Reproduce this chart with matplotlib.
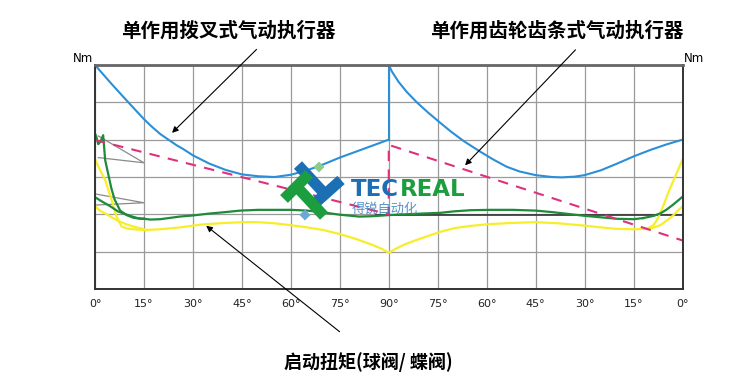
import numpy as np
import matplotlib
matplotlib.use("Agg")
import matplotlib.pyplot as plt
from matplotlib.patches import Polygon

plt.rcParams['font.family'] = ['Noto Sans CJK SC', 'DejaVu Sans']

# ---- data (x: 0..90 = fork actuator, 90..180 = rack & pinion; y in grid units) ----
tick_pos = list(range(0, 181, 15))
tick_labels = ['0°', '15°', '30°', '45°', '60°', '75°', '90°', '75°', '60°', '45°', '30°', '15°', '0°']

blue_fork_x = [0, 5, 10, 15, 17, 20, 25, 27, 30, 35, 40, 45, 50, 55, 60, 65, 70, 75, 80, 85, 90]
blue_fork_y = [6.0, 5.5, 5.02, 4.55, 4.38, 4.15, 3.85, 3.75, 3.58, 3.36, 3.19, 3.07, 3.02, 3.0, 3.06,
               3.18, 3.34, 3.52, 3.68, 3.84, 4.0]
blue_step_x = [90, 90]
blue_step_y = [4.0, 6.0]
blue_rack_x = [90, 91, 93, 95.5, 98.6, 102, 105.8, 109, 113, 118, 122, 126, 130, 135, 140, 143, 147,
               150, 155, 160, 165, 170, 175, 180]
blue_rack_y = [6.0, 5.82, 5.55, 5.28, 5.0, 4.73, 4.45, 4.22, 3.96, 3.68, 3.47, 3.28, 3.15, 3.05, 3.0,
               2.99, 3.01, 3.05, 3.18, 3.36, 3.55, 3.72, 3.87, 4.0]

dash_x = [0, 90, 90, 180]
dash_y = [3.99, 2.0, 3.86, 1.3]

black_x = [86, 180]
black_y = [1.98, 1.98]

green_main_x = [15, 17, 20, 26, 30, 35, 40, 44.5, 50, 55, 60, 65, 70, 75, 81, 85, 90, 95, 100, 105.8,
                110, 115, 121, 128, 135, 140, 145, 150, 155, 160, 165, 168]
green_main_y = [1.88, 1.86, 1.87, 1.94, 1.97, 2.02, 2.06, 2.1, 2.12, 2.12, 2.12, 2.1, 2.05, 1.99, 1.94,
                1.95, 1.98, 2.0, 2.02, 2.04, 2.08, 2.11, 2.12, 2.12, 2.1, 2.06, 2.01, 1.96, 1.92, 1.88,
                1.87, 1.9]
green_up_x = [0, 0.5, 1.0, 1.7, 2.5, 2.8, 3.1, 4.0, 5.0, 6.0, 7.7, 9.7, 11.7, 14, 15]
green_up_y = [4.17, 4.05, 3.88, 3.95, 4.12, 3.8, 3.46, 3.1, 2.7, 2.4, 2.1, 1.98, 1.91, 1.88, 1.88]
green_lo_x = [0, 2, 4.6, 7, 10.7, 13, 15]
green_lo_y = [2.46, 2.35, 2.22, 2.08, 1.96, 1.9, 1.88]
green_end_x = [168, 171.2, 173.3, 175, 177, 180]
green_end_y = [1.9, 1.96, 2.03, 2.12, 2.25, 2.47]

yellow_main_x = [15, 20, 26, 33, 40, 45.5, 50, 55, 60, 65, 70, 75, 80, 85, 88, 90, 92, 95, 100, 105.8,
                 110, 115, 121, 128, 135, 142, 149.7, 155, 160, 165, 169]
yellow_main_y = [1.58, 1.6, 1.65, 1.73, 1.77, 1.79, 1.79, 1.76, 1.71, 1.65, 1.58, 1.47, 1.34, 1.18, 1.07,
                 0.97, 1.07, 1.2, 1.36, 1.53, 1.63, 1.69, 1.74, 1.77, 1.79, 1.76, 1.7, 1.65, 1.61, 1.6,
                 1.61]
yellow_up_x = [0, 1.5, 3.1, 4.1, 5.1, 6.6, 7.5, 8.2, 10, 12, 15]
yellow_up_y = [3.47, 3.2, 2.92, 2.65, 2.38, 1.94, 1.78, 1.67, 1.62, 1.6, 1.58]
yellow_lo_x = [0, 1.5, 3.6, 5.5, 7.7, 10, 12.8, 15]
yellow_lo_y = [2.22, 2.1, 2.0, 1.9, 1.8, 1.72, 1.65, 1.6]
yellow_endA_x = [169, 171, 172.2, 174, 175.5, 177.3, 178.7, 180]
yellow_endA_y = [1.61, 1.7, 1.85, 2.2, 2.55, 2.92, 3.2, 3.47]
yellow_endB_x = [169, 171, 173.2, 175, 177, 180]
yellow_endB_y = [1.61, 1.64, 1.71, 1.82, 1.96, 2.22]

gray_wedges = [([1, 15, 1], [4.1, 3.38, 3.52]), ([0.5, 15, 0.5], [2.54, 2.31, 2.25])]

# ---- colours ----
BLUE = '#2b8fd8'
GREEN = '#1e8a3a'
YELLOW = '#f7ee2a'
PINK = '#e0307c'

fig = plt.figure(figsize=(7.56, 3.86), dpi=100)
ax = fig.add_axes([95 / 756, 97 / 386, 587.5 / 756, 224 / 386])
ax.set_xlim(0, 180)
ax.set_ylim(0, 6)

ax.set_xticks(tick_pos)
ax.set_xticklabels(tick_labels, fontsize=8, family='DejaVu Sans', color='#222222')
ax.set_yticks(range(0, 7))
ax.set_yticklabels([])
ax.tick_params(length=0, pad=7)
ax.grid(True, color='#9a9a9a', lw=0.9)
ax.set_axisbelow(True)
for s in ['left', 'bottom', 'right']:
    ax.spines[s].set_color('#333333')
    ax.spines[s].set_linewidth(1.4)
ax.spines['top'].set_color('#666666')
ax.spines['top'].set_linewidth(2)

for gx, gy in gray_wedges:
    ax.plot(gx, gy, color='#8a8a8a', lw=0.9)

ax.plot(black_x, black_y, color='#333333', lw=1.2)
ax.plot(yellow_main_x, yellow_main_y, color=YELLOW, lw=1.6)
ax.plot(yellow_up_x, yellow_up_y, color=YELLOW, lw=1.6)
ax.plot(yellow_lo_x, yellow_lo_y, color=YELLOW, lw=1.6)
ax.plot(yellow_endA_x, yellow_endA_y, color=YELLOW, lw=1.6)
ax.plot(yellow_endB_x, yellow_endB_y, color=YELLOW, lw=1.6)
ax.plot(green_main_x, green_main_y, color=GREEN, lw=1.6)
ax.plot(green_up_x, green_up_y, color=GREEN, lw=1.6)
ax.plot(green_lo_x, green_lo_y, color=GREEN, lw=1.6)
ax.plot(green_end_x, green_end_y, color=GREEN, lw=1.6)
ax.plot(dash_x, dash_y, color=PINK, lw=1.5, dashes=(5, 4))
ax.plot(blue_fork_x, blue_fork_y, color=BLUE, lw=1.5)
ax.plot(blue_step_x, blue_step_y, color=BLUE, lw=1.5)
ax.plot(blue_rack_x, blue_rack_y, color=BLUE, lw=1.5)

arrow_kw = dict(arrowstyle='-|>', color='black', lw=0.8, mutation_scale=9)
ax.annotate('', xy=(23.0, 4.13), xytext=(50.1, 6.47), arrowprops=arrow_kw, annotation_clip=False)
ax.annotate('', xy=(112.8, 3.26), xytext=(147.8, 6.46), arrowprops=arrow_kw, annotation_clip=False)
ax.annotate('', xy=(33.4, 1.74), xytext=(75.6, -1.19), arrowprops=arrow_kw, annotation_clip=False)

# texts in figure pixel positions
def fx(px):
    return px / 756

def fy(py):
    return 1 - py / 386

fig.text(fx(228), fy(31), '单作用拨叉式气动执行器', fontsize=14, fontweight='bold',
         ha='center', va='center')
fig.text(fx(557), fy(31), '单作用齿轮齿条式气动执行器', fontsize=14, fontweight='bold',
         ha='center', va='center')
fig.text(fx(368), fy(362), '启动扭矩(球阀/ 蝶阀)', fontsize=13, fontweight='bold',
         ha='center', va='center')
fig.text(fx(93), fy(59), 'Nm', fontsize=8.5, ha='right', va='center', family='DejaVu Sans')
fig.text(fx(684), fy(59), 'Nm', fontsize=8.5, ha='left', va='center', family='DejaVu Sans')

# ---- watermark logo (overlay axes in pixel coords) ----
ov = fig.add_axes([0, 0, 1, 1], zorder=5)
ov.set_xlim(0, 756)
ov.set_ylim(386, 0)
ov.axis('off')
ov.patch.set_alpha(0)

def bar(x1, y1, x2, y2, w, color):
    d = np.array([x2 - x1, y2 - y1], dtype=float)
    n = np.array([-d[1], d[0]]) / np.hypot(*d) * w / 2
    pts = [(x1 + n[0], y1 + n[1]), (x2 + n[0], y2 + n[1]), (x2 - n[0], y2 - n[1]), (x1 - n[0], y1 - n[1])]
    ov.add_patch(Polygon(pts, closed=True, color=color, lw=0))

def diamond(cx, cy, r, color):
    ov.add_patch(Polygon([(cx, cy - r), (cx + r, cy), (cx, cy + r), (cx - r, cy)], color=color, lw=0))

LB = '#1c6fb3'
LG = '#1c9e3e'
bar(298, 165, 323, 192, 11, LB)
bar(313, 205, 341, 180, 11, LB)
bar(284, 199, 309, 174, 11, LG)
bar(296, 186, 324, 216, 11, LG)
diamond(319, 167, 5.5, '#8ccb88')
diamond(305, 215, 5.5, '#6aa8d6')

t1 = ov.text(351, 189, 'TEC', fontsize=16.5, fontweight='bold', color=LB, family='DejaVu Sans',
             ha='left', va='center')
fig.canvas.draw()
bb = t1.get_window_extent()
tec_right = bb.x1  # display px (same as figure px at dpi 100)
ov.text(tec_right + 1, 189, 'REAL', fontsize=16.5, fontweight='bold', color=LG, family='DejaVu Sans',
        ha='left', va='center')
ov.text(352, 209, '得锐自动化', fontsize=9.5, color='#3a80c2', alpha=0.85, ha='left', va='center')

fig.savefig('out.png', dpi=100, facecolor='white')
